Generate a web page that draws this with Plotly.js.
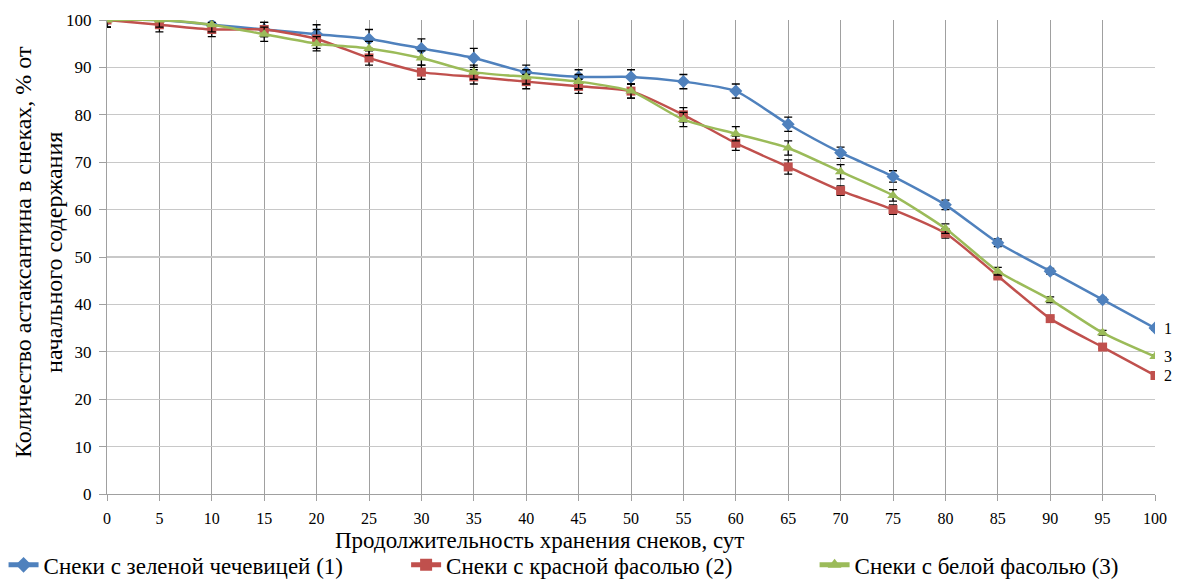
<!DOCTYPE html>
<html>
<head>
<meta charset="utf-8">
<script src="https://cdn.plot.ly/plotly-3.0.1.min.js"></script>
<style>html,body{margin:0;padding:0;background:#fff;}#chart{width:1184px;height:580px;}</style>
</head>
<body>
<div id="chart"></div>
<script>
const days = [0,5,10,15,20,25,30,35,40,45,50,55,60,65,70,75,80,85,90,95,100];
const lentil = [100,100,99,98,97,96,94,92,89,88,88,87,85,78,72,67,61,53,47,41,35];
const redBean = [100,99,98,98,96,92,89,88,87,86,85,80,74,69,64,60,55,46,37,31,25];
const whiteBean = [100,100,99,97,95,94,92,89,88,87,85,79,76,73,68,63,56,47,41,34,29];
const lentilErr = [1.5,1.5,1.5,1.5,2,2,2,2,1.5,1.5,1.5,1.5,1.5,1.5,1.2,1.2,1,0.8,0.6,0.5,0.4];
const redErr = [1.5,1.5,1.5,1.5,2,1.5,1.5,1.5,1.5,1.5,1.5,1.5,1.5,1.5,1,1,1,0.5,0.3,0.3,0.3];
const whiteErr = [1.5,1.5,1.5,1.5,1.5,1.5,1.5,1.5,1.5,1.5,1.5,1.5,1.5,1.5,1.5,1.2,1,0.8,0.6,0.5,0.4];
const names = ['Снеки с зеленой чечевицей (1)','Снеки с красной фасолью (2)','Снеки с белой фасолью (3)'];
const endLabels = ['1','2','3'];
const colors = ['#4F81BD','#C0504D','#9BBB59'];
const symbols = ['diamond','square','triangle-up'];
const series = [lentil, redBean, whiteBean];
const errs = [lentilErr, redErr, whiteErr];

const font = '"Times New Roman", "Liberation Serif", serif';
const legendIds = ['legend','legend2','legend3'];
const legendX = [0.003, 0.343, 0.688];
const traces = series.map((ys,i)=>({
  x: days, y: ys, name: names[i], type:'scatter', mode:'lines+markers', legend: legendIds[i],
  line:{color:colors[i], width:2.5, shape:'spline', smoothing:0.6},
  marker:{color:colors[i], symbol:symbols[i], size: i===1?9:10},
  error_y:{type:'data', array:errs[i], visible:true, color:'#000', thickness:1.3, width:4}
}));

const annotations = series.map((ys,i)=>({
  x: days[days.length-1], y: ys[ys.length-1], xref:'x', yref:'y',
  text: endLabels[i], showarrow:false, xanchor:'left', xshift:7,
  font:{family:font, size:16, color:'#000'}
}));
annotations.push({
  text:'Продолжительность хранения снеков, сут', xref:'paper', yref:'paper',
  x:0.413, y:-0.099, xanchor:'center', yanchor:'middle', showarrow:false,
  font:{family:font, size:23, color:'#000'}
});
annotations.push({
  text:'Количество астаксантина в снеках, % от<br>начального содержания', xref:'paper', yref:'paper',
  x:-0.066, y:0.51, xanchor:'center', yanchor:'middle', showarrow:false, textangle:-90,
  font:{family:font, size:24, color:'#000'}
});

const layout = {
  width:1184, height:580,
  margin:{l:107, r:29, t:20, b:86},
  paper_bgcolor:'#fff', plot_bgcolor:'#fff',
  font:{family:font, color:'#000'},
  showlegend:true,
  xaxis:{range:[0,100], tickvals:days, ticktext:days.map(String), showgrid:true, gridcolor:'#a0a0a0', gridwidth:1,
    zeroline:false, showline:true, linecolor:'#a0a0a0', ticks:'outside', ticklen:6, tickcolor:'#a0a0a0',
    ticklabelstandoff:4, tickfont:{family:font, size:16, color:'#000'}, fixedrange:true},
  yaxis:{range:[0,100], dtick:10, showgrid:true, gridcolor:'#c8c8c8', gridwidth:1.3,
    zeroline:false, showline:true, linecolor:'#a0a0a0', ticks:'outside', ticklen:7, tickcolor:'#a0a0a0',
    ticklabelstandoff:4, tickfont:{family:font, size:17, color:'#000'}, fixedrange:true},
  annotations: annotations
};
legendIds.forEach((id,i)=>{
  layout[id] = {orientation:'h', xref:'container', yref:'container', x:legendX[i], y:0.026,
    xanchor:'left', yanchor:'middle', bgcolor:'rgba(0,0,0,0)',
    font:{family:font, size:23, color:'#000'}, itemwidth:30, itemsizing:'constant'};
});
Plotly.newPlot('chart', traces, layout, {displayModeBar:false, staticPlot:true});
</script>
</body>
</html>
